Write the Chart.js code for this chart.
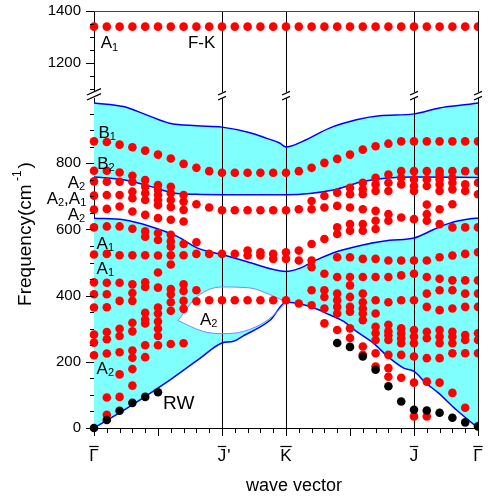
<!DOCTYPE html>
<html>
<head>
<meta charset="utf-8">
<script src="https://cdn.jsdelivr.net/npm/chart.js@4.4.1/dist/chart.umd.min.js"></script>
<style>
  html, body { margin: 0; padding: 0; background: #fff; }
</style>
</head>
<body>
<canvas id="chart" width="494" height="499"></canvas>
<script>
// k-points along the path (column index of every calculated point)
const kLabels = ['Γ', "J'", 'K', 'J', 'Γ'];
const kPos = [0, 10, 15, 25, 30];

// F-K mode, upper part of the broken axis
const fkRow = [1340, 1340, 1340, 1340, 1340, 1340, 1340, 1340, 1340, 1340, 1340,
               1340, 1340, 1340, 1340, 1340, 1340, 1340, 1340, 1340, 1340,
               1340, 1340, 1340, 1340, 1340, 1340, 1340, 1340, 1340, 1340];

// red points: frequencies (cm-1) at each k column 0..30
const redModes = [
  [866, 777, 745, 702, 660, 606, 524, 440, 404, 364, 282, 258, 220],
  [864, 777, 744, 704, 662, 609, 526, 439, 404, 365, 290, 268, 225, 92, 40],
  [856, 772, 744, 704, 669, 609, 522, 439, 384, 300, 278, 229, 162, 94],
  [848, 762, 744, 714, 694, 654, 602, 522, 434, 408, 384, 318, 292, 234, 212, 178, 128],
  [838, 749, 729, 709, 689, 644, 594, 578, 522, 440, 426, 348, 328, 316, 250, 214],
  [826, 734, 719, 704, 689, 674, 634, 589, 568, 521, 470, 424, 364, 346, 322, 300, 278, 250],
  [814, 729, 709, 689, 668, 629, 584, 564, 548, 522, 494, 420, 404, 380, 354, 254],
  [798, 704, 684, 659, 624, 556, 522, 434, 414, 384, 360, 256],
  [786, 676, 561, 526, 416, 383],
  [776, 666, 526, 386],
  [771, 658, 526, 386],
  [771, 658, 526, 386],
  [771, 658, 536, 521, 386],
  [771, 658, 531, 521, 386],
  [771, 658, 526, 511, 386],
  [771, 658, 531, 511, 386],
  [776, 661, 536, 506, 376],
  [786, 686, 661, 556, 506, 486, 416, 371],
  [801, 701, 666, 571, 466, 416, 396, 361, 316],
  [813, 711, 671, 606, 586, 516, 456, 406, 386, 366, 346, 296],
  [826, 726, 706, 666, 616, 596, 516, 456, 431, 396, 366, 351, 301, 272],
  [841, 741, 721, 706, 661, 616, 596, 511, 456, 406, 380, 361, 346, 326, 246, 221],
  [851, 756, 736, 716, 656, 626, 601, 511, 456, 386, 346, 306, 286, 266, 226, 186],
  [859, 766, 741, 716, 646, 626, 506, 456, 380, 312, 292, 280, 266, 221, 181, 155],
  [866, 776, 756, 736, 636, 506, 461, 386, 301, 286, 271, 256, 221, 152],
  [866, 776, 751, 731, 716, 631, 506, 466, 386, 296, 276, 256, 216, 137, 35],
  [866, 776, 751, 731, 675, 646, 626, 506, 456, 406, 366, 291, 271, 211, 140, 35],
  [866, 776, 766, 751, 736, 716, 661, 616, 516, 451, 416, 356, 296, 276, 256, 211, 137],
  [866, 776, 756, 741, 721, 676, 606, 521, 446, 416, 361, 291, 276, 256, 226, 106],
  [866, 776, 736, 716, 606, 526, 446, 406, 366, 281, 266, 226, 61],
  [866, 776, 741, 706, 606, 531, 446, 406, 366, 286, 266, 226]
];

// Rayleigh wave (black points)
const rwK    = [0, 1, 2, 3, 4, 5, 19, 20, 21, 22, 23, 24, 25, 26, 27, 28, 29, 30];
const rwFreq = [0, 24, 52, 76, 94, 108, 257, 245, 216, 176, 126, 80, 55, 53, 46, 31, 17, 5];

// bulk band edges [k, freq]
const band1Top = [[0, 982], [2.3, 971], [4.1, 946], [5.9, 921], [8, 913], [10, 909], [12.2, 892],
  [13.5, 875], [14.5, 861], [15, 849], [16.3, 866], [18.4, 906], [20.5, 931], [22.3, 943],
  [25, 949], [27, 967], [29.1, 977], [30, 982]];
const band1Bottom = [[0, 758], [2.3, 750], [4.4, 730], [6.2, 710], [8, 706], [10, 705], [15, 705],
  [18.8, 720], [21, 745], [25, 758], [30, 757]];
const band2Top = [[0, 634], [2.3, 629], [4.4, 609], [6.5, 579], [8, 545], [10, 524], [11.9, 503],
  [15, 473], [16.1, 483], [17.4, 508], [19, 533], [21, 553], [23.1, 567], [25, 574], [26.5, 599],
  [27.8, 619], [29.4, 632], [30, 634]];
const band2Bottom = [[0, 0], [3, 70], [5.6, 136], [8.3, 211], [10, 257], [10.9, 262], [11.6, 277],
  [13.8, 327], [15, 380], [16.9, 367], [18.4, 342], [19.5, 322], [20.5, 292], [21.8, 257],
  [23.1, 211], [24.2, 181], [25, 171], [25.9, 137], [26.9, 106], [28.3, 55], [30, 0]];
const gapTop = [[6.56, 325], [8.1, 398], [10, 426], [12.2, 423], [13.75, 403], [15, 381]];
const gapBottom = [[6.56, 325], [8.5, 292], [10, 285], [11.7, 292], [13.6, 327], [15, 379]];

const modeLabels = [
  { parts: [['A', 0], ['1', 1]], x: 0.52, y: 1281, axis: 'yTop' },
  { parts: [['F-K', 0]], x: 7.34, y: 1281, axis: 'yTop' },
  { parts: [['B', 0], ['1', 1]], x: 0.35, y: 895 },
  { parts: [['B', 0], ['2', 1]], x: 0.25, y: 801 },
  { parts: [['A', 0], ['2', 1]], x: -2.05, y: 744 },
  { parts: [['A', 0], ['2', 1], [',', 0], ['A', 0], ['1', 1]], x: -3.7, y: 696 },
  { parts: [['A', 0], ['2', 1]], x: -2.05, y: 647 },
  { parts: [['A', 0], ['1', 1]], x: 0.2, y: 560 },
  { parts: [['A', 0], ['1', 1]], x: 0.2, y: 484 },
  { parts: [['A', 0], ['2', 1]], x: 8.28, y: 330 },
  { parts: [['A', 0], ['2', 1]], x: 0.2, y: 183 },
  { parts: [['RW', 0]], x: 5.4, y: 79, size: 19 }
];

const FONT = 'Arial, "Liberation Sans", sans-serif';
const BLUE = '#0000ff';
const CYAN = '#80ffff';
const RED = '#ff0000';

const pts = arr => arr.map(([x, y]) => ({ x, y }));
const redPoints = [];
redModes.forEach((col, k) => col.forEach(f => redPoints.push({ x: k, y: f })));
const fkPoints = fkRow.map((f, k) => ({ x: k, y: f }));
const rwPoints = rwK.map((k, i) => ({ x: k, y: rwFreq[i] }));

function edge(data, opts) {
  return Object.assign({
    data: pts(data),
    borderColor: BLUE,
    borderWidth: 1.5,
    pointRadius: 0,
    cubicInterpolationMode: 'monotone',
    fill: false
  }, opts);
}

function dots(data, color, opts) {
  return Object.assign({
    data: data,
    showLine: false,
    pointRadius: 4.3,
    pointBorderWidth: 0,
    pointBackgroundColor: color,
    borderColor: color,
    clip: { left: 10, top: 10, right: 0, bottom: 10 }
  }, opts);
}

function drawParts(ctx, parts, x, cy, size) {
  let px = x;
  for (const [t, sub] of parts) {
    if (sub) {
      ctx.font = Math.round(size * 0.62) + 'px ' + FONT;
      ctx.fillText(t, px, cy + size * 0.5);
    } else {
      ctx.font = size + 'px ' + FONT;
      ctx.fillText(t, px, cy + size * 0.36);
    }
    px += ctx.measureText(t).width;
  }
}

// fixed axis box, no extra label padding so the plot area matches the original
function fixY(s) {
  s.width = 94;
  s.paddingTop = 0;
  s.paddingBottom = 0;
}

const decorations = {
  id: 'decorations',
  beforeDatasetsDraw(chart) {
    const { ctx, chartArea: a, scales: { x } } = chart;
    ctx.save();
    ctx.strokeStyle = '#000';
    ctx.lineWidth = 1;
    for (const v of kPos.slice(1)) {
      const px = Math.round(x.getPixelForValue(v)) + 0.5;
      ctx.beginPath();
      ctx.moveTo(px, a.top);
      ctx.lineTo(px, a.bottom);
      ctx.stroke();
    }
    ctx.strokeStyle = '#444';
    ctx.beginPath();
    ctx.moveTo(a.left, a.top + 0.5);
    ctx.lineTo(a.right, a.top + 0.5);
    ctx.stroke();
    ctx.restore();
  },
  afterDraw(chart) {
    const { ctx, chartArea: a, scales } = chart;
    const x = scales.x, yLow = scales.y, yTop = scales.yTop;
    ctx.save();
    ctx.strokeStyle = '#000';
    ctx.lineWidth = 1;

    // y ticks
    const yTick = (py, len) => {
      py = Math.round(py) + 0.5;
      ctx.beginPath();
      ctx.moveTo(a.left - len, py);
      ctx.lineTo(a.left, py);
      ctx.stroke();
    };
    for (let v = 0; v < 1000; v += 50) yTick(yLow.getPixelForValue(v), v % 200 ? 4 : 8);
    for (let v = 1100; v <= 1400; v += 50) yTick(yTop.getPixelForValue(v), v % 200 ? 4 : 8);

    // x ticks
    for (let k = 0; k <= 30; k++) {
      const px = Math.round(x.getPixelForValue(k)) + 0.5;
      ctx.beginPath();
      ctx.moveTo(px, a.bottom);
      ctx.lineTo(px, a.bottom + (k % 5 ? 5 : 8));
      ctx.stroke();
    }

    // axis breaks
    const yb = yLow.top;
    ctx.lineWidth = 1.3;
    kPos.forEach((v, i) => {
      const px = x.getPixelForValue(v);
      const w = i === 0 ? 7 : 4;
      ctx.fillStyle = '#fff';
      ctx.fillRect(px - w + 1, yb - 5, 2 * w - 2, 6);
      ctx.beginPath();
      ctx.moveTo(px - w, yb - 2); ctx.lineTo(px + w, yb - 2 - w * 0.9);
      ctx.moveTo(px - w, yb + 3); ctx.lineTo(px + w, yb + 3 - w * 0.9);
      ctx.stroke();
    });

    // k-point labels with overbars
    ctx.fillStyle = '#000';
    ctx.font = '17px ' + FONT;
    ctx.textBaseline = 'alphabetic';
    ctx.lineWidth = 1.2;
    kPos.forEach((v, i) => {
      const px = x.getPixelForValue(v);
      const main = kLabels[i].replace("'", '');
      const wMain = ctx.measureText(main).width;
      const x0 = px - wMain / 2;
      ctx.fillText(main, x0, 461);
      if (kLabels[i].includes("'")) ctx.fillText("'", x0 + wMain + 1, 461);
      ctx.beginPath();
      ctx.moveTo(x0, 446.5);
      ctx.lineTo(x0 + wMain, 446.5);
      ctx.stroke();
    });

    // axis titles
    ctx.font = '18px ' + FONT;
    ctx.textAlign = 'center';
    ctx.fillText('wave vector', 294, 491);
    ctx.textAlign = 'left';

    ctx.save();
    ctx.translate(31, 234);
    ctx.rotate(-Math.PI / 2);
    ctx.font = '19px ' + FONT;
    const t1 = 'Frequency(cm', t3 = ')';
    const w1 = ctx.measureText(t1).width, w3 = ctx.measureText(t3).width;
    ctx.font = '12px ' + FONT;
    const t2 = ' -1';
    const w2 = ctx.measureText(t2).width + 2;
    let u = -(w1 + w2 + w3) / 2;
    ctx.font = '19px ' + FONT;
    ctx.fillText(t1, u, 0);
    u += w1;
    ctx.font = '12px ' + FONT;
    ctx.fillText(t2, u, -10);
    u += w2;
    ctx.font = '19px ' + FONT;
    ctx.fillText(t3, u, 0);
    ctx.restore();

    // mode labels
    for (const lab of modeLabels) {
      const ys = lab.axis === 'yTop' ? yTop : yLow;
      drawParts(ctx, lab.parts, x.getPixelForValue(lab.x), ys.getPixelForValue(lab.y), lab.size || 17);
    }
    ctx.restore();
  }
};

new Chart(document.getElementById('chart'), {
  type: 'line',
  data: {
    datasets: [
      edge(band1Top, { backgroundColor: CYAN, fill: '+1', order: 10 }),
      edge(band1Bottom, { order: 10 }),
      edge(band2Top, { backgroundColor: CYAN, fill: '+1', order: 9 }),
      edge(band2Bottom, { order: 9 }),
      edge(gapTop, { borderColor: '#6f8cff', borderWidth: 1, backgroundColor: '#ffffff', fill: '+1', order: 8 }),
      edge(gapBottom, { borderColor: '#6f8cff', borderWidth: 1, order: 8 }),
      dots(redPoints, RED, { order: 2 }),
      dots(fkPoints, RED, { yAxisID: 'yTop', order: 2 }),
      dots(rwPoints, '#000', { order: 1 })
    ]
  },
  options: {
    responsive: false,
    animation: false,
    events: [],
    layout: { padding: { top: 11, right: 16, left: 0, bottom: 0 } },
    plugins: {
      legend: { display: false },
      tooltip: { enabled: false },
      filler: { drawTime: 'beforeDatasetsDraw' }
    },
    scales: {
      x: {
        type: 'linear',
        min: 0,
        max: 30,
        afterFit: s => { s.height = 71; s.paddingLeft = 0; s.paddingRight = 0; },
        ticks: { display: false },
        grid: { display: false },
        border: { display: true, color: '#000', width: 1 }
      },
      y: {
        type: 'linear',
        position: 'left',
        stack: 'freq',
        stackWeight: 331,
        min: 0,
        max: 1000,
        afterFit: fixY,
        ticks: {
          stepSize: 200,
          includeBounds: false,
          padding: 13,
          color: '#000',
          font: { family: FONT, size: 15 },
          callback: v => (v <= 800 ? v : '')
        },
        grid: { drawOnChartArea: false, drawTicks: false },
        border: { display: true, color: '#000', width: 1 }
      },
      yTop: {
        type: 'linear',
        position: 'left',
        stack: 'freq',
        stackWeight: 86,
        min: 1070,
        max: 1400,
        afterFit: fixY,
        ticks: {
          stepSize: 200,
          includeBounds: false,
          padding: 13,
          color: '#000',
          font: { family: FONT, size: 15 },
          callback: v => (v === 1200 || v === 1400 ? v : '')
        },
        grid: { drawOnChartArea: false, drawTicks: false },
        border: { display: true, color: '#000', width: 1 }
      }
    }
  },
  plugins: [decorations]
});
</script>
</body>
</html>
